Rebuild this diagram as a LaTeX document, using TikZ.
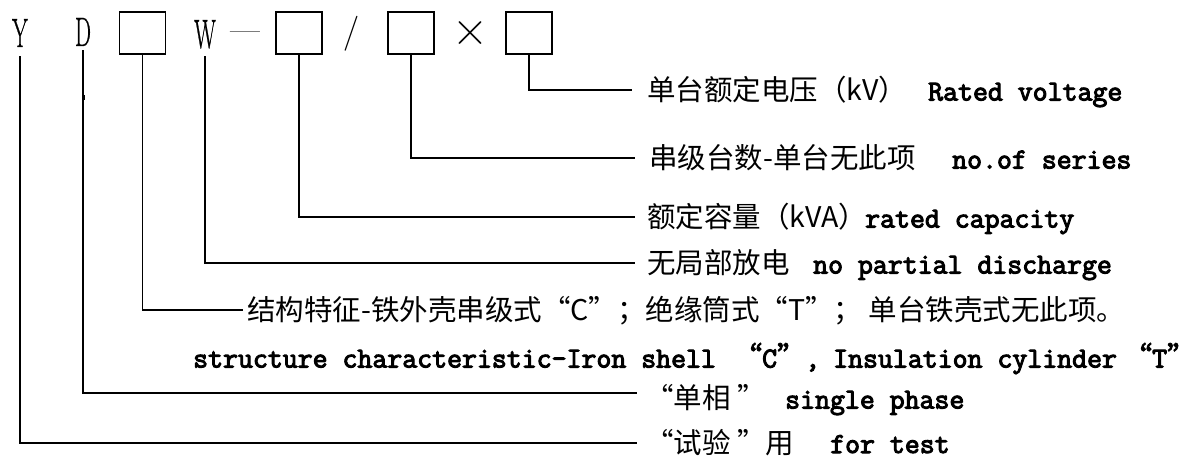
\documentclass[tikz,border=0pt]{standalone}
\usepackage{fontspec}
\newfontfamily\cjk{Noto Sans CJK SC}
\newfontfamily\cjkq{Noto Sans CJK SC}[FakeBold=3]
\newfontfamily\engfont{Latin Modern Mono}[FakeBold=3.5]
\newfontfamily\letfont{Latin Modern Roman}[FakeBold=1]
\newcommand\engl{\engfont\fontsize{29}{30}\selectfont}
\begin{document}
\begin{tikzpicture}[x=1pt,y=-1pt,
  box/.style={draw,line width=1.4pt,minimum width=46pt,minimum height=42pt,inner sep=0pt},
  lead/.style={line width=1.3pt},
  letter/.style={anchor=base,inner xsep=0pt,text height=28pt,text depth=0pt,font=\letfont\fontsize{41}{41}\selectfont},
  sym/.style={anchor=base,inner sep=0pt},
  lbl/.style={anchor=west,inner ysep=0pt,text height=21pt,text depth=0pt,font=\cjk\fontsize{28.5}{30}\selectfont},
]
\path[use as bounding box] (0,0) rectangle (1191,457);
% code letters
\node[letter,inner ysep=9pt] (Y) at (20,47) {\scalebox{0.55}[1]{Y}};
\node[letter,inner ysep=4pt] (D) at (83,46) {\scalebox{0.55}[1]{D}};
\node[letter,inner ysep=8pt] (W) at (205,48) {\scalebox{0.55}[1]{W}};
\node[sym,font=\fontsize{32}{32}\selectfont] (dash) at (245,40.3) {—};
\node[sym,font=\fontsize{35}{35}\selectfont] (slash) at (351.5,43) {/};
\node[sym,font=\fontsize{50}{50}\selectfont] (times) at (470,46) {×};
% boxes
\node[box] (b1) at (142.5,33) {};
\node[box] (b2) at (299,33) {};
\node[box] (b3) at (411,33) {};
\node[box] (b4) at (529,33) {};
% labels
\node[lbl,inner xsep=15pt] (r1) at (632,90) {\makebox[281pt][l]{单台额定电压（kV）}{\engl Rated voltage}};
\node[lbl,inner xsep=14pt] (r2) at (635,158) {\makebox[303pt][l]{串级台数-单台无此项}{\engl no.of series}};
\node[lbl,inner xsep=12pt] (r3) at (635,217) {\makebox[218pt][l]{额定容量（kVA）}{\engl rated capacity}};
\node[lbl,inner xsep=12pt] (r4) at (635,263) {\makebox[166pt][l]{无局部放电}{\engl no partial discharge}};
\node[lbl,inner xsep=4pt] (r5) at (243,310) {结构特征-铁外壳串级式“C”；绝缘筒式“T”； 单台铁壳式无此项。};
\node[lbl,anchor=west,inner xsep=0pt] (r6) at (193,357) {\engl\makebox[540pt][l]{structure characteristic-Iron shell}\makebox[72pt][l]{{\cjkq “}C{\cjkq ”}}\makebox[28pt][l]{,}\makebox[290pt][l]{Insulation cylinder}{\cjkq “}T\rlap{\cjkq ”}};
\node[lbl,inner xsep=8pt,text height=31pt] (r7) at (637,393) {\makebox[140pt][l]{“单相 ”}{\engl single phase}};
\node[lbl,inner xsep=8pt,text height=20pt] (r8) at (637,443) {\makebox[185pt][l]{“试验 ”用}{\engl for test}};
% connectors
\draw[lead] (b4.south) |- (r1.west);
\draw[lead] (b3.south) |- (r2.west);
\draw[lead] (b2.south) |- (r3.west);
\draw[lead] (W.south) |- (r4.west);
\draw[lead] (b1.south) |- (r5.west);
\draw[lead] (D.south) |- (r7.west);
\draw[lead] (Y.south) |- (r8.west);
\fill ([shift={(0,45)}]D.south) rectangle +(2.2,5);
\end{tikzpicture}
\end{document}
